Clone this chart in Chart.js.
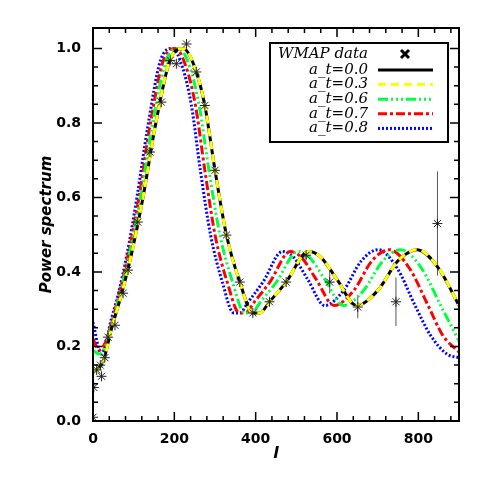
<!DOCTYPE html>
<html><head><meta charset="utf-8">
<script src="https://cdn.jsdelivr.net/npm/chart.js@4/dist/chart.umd.min.js"></script>
<style>body{margin:0;background:#fff}#c{width:485px;height:485px}</style>
</head><body><div id="c"><canvas id="chart" width="485" height="485"></canvas></div>
<script>
// model curves: [l, power]
const curveA00 = [[0,.13],[25,.16],[46,.25],[70,.34],[95,.45],[123,.60],[152,.785],[189,.968],[222,1.0],[250,.95],[275,.847],[300,.673],[328,.50],[361,.373],[393,.29],[410,.29],[434,.32],[475,.373],[530,.455],[560,.44],[600,.38],[648,.31],[700,.35],[750,.43],[797,.46],[850,.41],[900,.31]];
const curveA03 = curveA00;
const curveA06 = [[0,.19],[15,.18],[30,.2],[44,.25],[66,.34],[90,.45],[117,.60],[144,.785],[180,.968],[211,1.0],[238,.95],[261,.847],[285,.673],[312,.50],[343,.373],[373,.29],[390,.29],[412,.32],[451,.373],[504,.455],[532,.44],[570,.38],[616,.31],[665,.35],[713,.43],[757,.46],[808,.41],[855,.31],[900,.215]];
const curveA07 = [[0,.22],[15,.19],[30,.21],[42,.25],[64,.34],[87,.45],[113,.60],[139,.785],[173,.968],[203,1.0],[229,.95],[252,.847],[275,.673],[300,.50],[330,.373],[360,.29],[375,.29],[397,.32],[435,.373],[485,.455],[512,.44],[549,.38],[593,.31],[641,.35],[686,.43],[729,.46],[778,.41],[824,.31],[860,.23],[900,.185]];
const curveA08 = [[0,.265],[20,.18],[35,.22],[40,.25],[62,.34],[84,.45],[108,.60],[134,.785],[166,.968],[195,1.0],[220,.95],[242,.847],[264,.673],[289,.50],[318,.373],[346,.29],[361,.29],[382,.32],[418,.373],[466,.455],[493,.44],[528,.38],[570,.31],[616,.35],[660,.43],[701,.46],[748,.41],[792,.31],[830,.23],[870,.18],[900,.17]];
// WMAP points: [l, power, error]
const wmap = [[0,.01,0],[2,.09,0],[9,.137,0],[18,.15,0],[21,.12,0],[29,.17,0],[37,.225,0],[54,.257,0],[74,.343,0],[86,.405,0],[110,.534,0],[140,.722,0],[168,.856,0],[190,.968,0],[205,.959,0],[230,1.012,0],[254,.937,0],[275,.847,0],[300,.673,0],[328,.499,0],[361,.373,0],[393,.29,0],[434,.32,0],[475,.373,0],[524,.445,0.01],[582,.373,.03],[651,.306,.03],[745,.32,.065],[847,.53,.14]];
const legendLabels = ["a_t=0.0","a_t=0.3","a_t=0.6","a_t=0.7","a_t=0.8"];
const xTicks = [0,200,400,600,800];
const yTicks = [0.0,0.2,0.4,0.6,0.8,1.0];

const pts = a => a.map(p => ({x:p[0], y:p[1]}));
const styles = [
  {c:"#000000", d:[]},
  {c:"#ffff00", d:[8,5]},
  {c:"#00ff40", d:[10,3,2,3,2,3,2,3]},
  {c:"#ff0000", d:[9,3,3,3]},
  {c:"#0000ff", d:[2,2]}
];
const curves = [curveA00, curveA03, curveA06, curveA07, curveA08];
const datasets = curves.map((c,i) => ({
  type:"line", label:legendLabels[i], data:pts(c), borderColor:styles[i].c, borderDash:styles[i].d,
  borderWidth:3, pointRadius:0, cubicInterpolationMode:"monotone", fill:false,
  order: i<2 ? 2-i : 3+i
}));
datasets.push({type:"scatter", label:"WMAP data", data:pts(wmap), pointStyle:"star", pointRadius:5,
  borderColor:"#222", borderWidth:1, backgroundColor:"#222", order:0});

const extras = {
  id:"extras",
  beforeDatasetsDraw(ch){
    const {ctx, scales:{x,y}} = ch;
    ctx.save(); ctx.strokeStyle="#555"; ctx.lineWidth=1;
    wmap.forEach(p => { if(p[2]>0){ const px=x.getPixelForValue(p[0]);
      ctx.beginPath(); ctx.moveTo(px,y.getPixelForValue(p[1]-p[2])); ctx.lineTo(px,y.getPixelForValue(p[1]+p[2])); ctx.stroke(); }});
    ctx.restore();
  },
  afterDraw(ch){
    const {ctx, chartArea:a, scales:{x,y}} = ch;
    ctx.save();
    ctx.strokeStyle="#000"; ctx.lineWidth=2;
    ctx.strokeRect(a.left,a.top,a.right-a.left,a.bottom-a.top);
    ctx.lineWidth=1.5;
    for(let v=0; v<=900; v+=40){ const px=x.getPixelForValue(v); const L = v%200===0?9:5;
      ctx.beginPath(); ctx.moveTo(px,a.bottom); ctx.lineTo(px,a.bottom-L); ctx.moveTo(px,a.top); ctx.lineTo(px,a.top+L); ctx.stroke(); }
    for(let k=0;k<=20;k++){ const v=k*0.05, py=y.getPixelForValue(v); if(py<a.top-1) continue; const L = k%4===0?9:5;
      ctx.beginPath(); ctx.moveTo(a.left,py); ctx.lineTo(a.left+L,py); ctx.moveTo(a.right,py); ctx.lineTo(a.right-L,py); ctx.stroke(); }
    // legend
    const bx=270, by=43, bw=178, bh=99;
    ctx.fillStyle="#fff"; ctx.fillRect(bx,by,bw,bh);
    ctx.lineWidth=2; ctx.strokeRect(bx,by,bw,bh);
    ctx.font="italic 15px 'DejaVu Serif'"; ctx.fillStyle="#000"; ctx.textAlign="right"; ctx.textBaseline="middle";
    ctx.fillText("WMAP data", 368, 54);
    ctx.lineWidth=3; ctx.beginPath(); ctx.moveTo(401,50); ctx.lineTo(409,58); ctx.moveTo(409,50); ctx.lineTo(401,58); ctx.stroke();
    legendLabels.forEach((t,i) => { const ly = 70 + i*14.6;
      ctx.fillText(t, 368, ly);
      ctx.strokeStyle=styles[i].c; ctx.setLineDash(styles[i].d); ctx.lineWidth=3;
      ctx.beginPath(); ctx.moveTo(378,ly); ctx.lineTo(433,ly); ctx.stroke(); ctx.setLineDash([]); ctx.strokeStyle="#000";
    });
    ctx.restore();
  }
};

new Chart(document.getElementById("chart"), {
  data:{datasets},
  options:{
    responsive:false, animation:false,
    layout:{padding:{top:28,right:26,left:34,bottom:18}},
    plugins:{legend:{display:false}, tooltip:{enabled:false}},
    scales:{
      x:{type:"linear", min:0, max:900, afterFit(s){s.height=46;},
        afterBuildTicks(s){ s.ticks = xTicks.map(v=>({value:v})); },
        grid:{display:false}, border:{display:false},
        ticks:{color:"#000", font:{family:"DejaVu Sans", weight:"bold", size:14}, padding:2},
        title:{display:true, text:"l", color:"#000", font:{family:"DejaVu Sans", weight:"bold", style:"italic", size:16}, padding:{top:0}}},
      y:{type:"linear", min:0, max:1.055, afterFit(s){s.width=59;},
        afterBuildTicks(s){ s.ticks = yTicks.map(v=>({value:v})); },
        grid:{display:false}, border:{display:false},
        ticks:{color:"#000", font:{family:"DejaVu Sans", weight:"bold", size:14}, padding:4, callback:v=>v.toFixed(1)},
        title:{display:true, text:"Power spectrum", color:"#000", font:{family:"DejaVu Sans", weight:"bold", style:"italic", size:15}, padding:{bottom:2}}}
    }
  },
  plugins:[extras]
});
</script></body></html>
